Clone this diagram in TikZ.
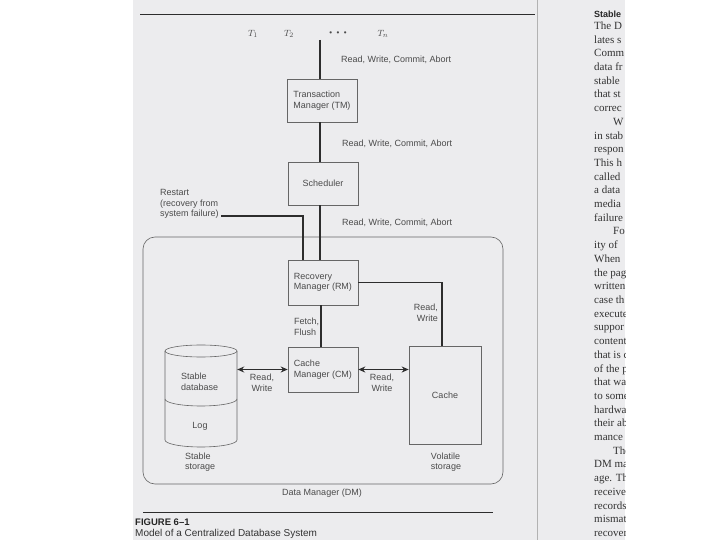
\documentclass[tikz,border=0pt]{standalone}
\usepackage{fontspec}
\setmainfont{Liberation Sans}
\newfontfamily\rpserif{Liberation Serif}
\usetikzlibrary{arrows.meta}
\definecolor{pagegray}{RGB}{236,236,238}
\definecolor{ink}{RGB}{75,75,75}
\definecolor{lineink}{RGB}{45,45,45}
\tikzset{
  box/.style={draw=black!60, line width=0.6pt, minimum width=70pt, minimum height=43pt,
              inner sep=0pt, text=ink, align=left, font=\fontsize{9}{10.5}\selectfont},
  lbl/.style={text=ink, inner sep=0pt, font=\fontsize{9}{10.5}\selectfont},
  conn/.style={draw=lineink, line width=1.4pt},
  biarrow/.style={draw=lineink, line width=1.7pt, {Stealth[length=7pt,width=6pt]}-{Stealth[length=7pt,width=6pt]}},
  rp/.style={inner sep=0pt, text=black!80, font=\rpserif\fontsize{11}{13}\selectfont},
  rule/.style={draw=lineink, line width=0.9pt}
}
\begin{document}
\begin{tikzpicture}[x=1pt,y=-1pt]
\useasboundingbox (0,0) rectangle (720,540);
% page
\fill[white] (0,0) rectangle (720,540);
\fill[pagegray] (133,0) rectangle (625,540);
\draw[black!30, line width=0.6pt] (537,0) -- (537,540);

% rules
\draw[rule] (140,14) -- (535,14);
\draw[rule] (143,512) -- (493,512);

% transactions
\node[lbl, font=\fontsize{9.5}{10}\selectfont] (t1) at (253,34) {$T_1$};
\node[lbl, font=\fontsize{9.5}{10}\selectfont] (t2) at (289,34) {$T_2$};
\node[lbl, font=\fontsize{8}{9}\selectfont] (dots) at (338,34) {\textbullet\ \ \textbullet\ \ \textbullet};
\node[lbl, font=\fontsize{9.5}{10}\selectfont] (tn) at (383,34) {$T_n$};

% data manager outline
\node[draw=black!60, line width=0.6pt, rounded corners=12pt, minimum width=360pt,
      minimum height=247pt, inner sep=0pt] (dm) at (323,360.5) {};
\node[lbl] (dmlbl) at (322,493) {Data Manager (DM)};

% boxes
\node[box] (tm) at (322,100.5) {Transaction\\Manager (TM)};
\node[box, align=center] (sch) at (323,183.5) {Scheduler};
\node[box, minimum height=45pt] (rm) at (323,282.5) {Recovery\\Manager (RM)};
\node[box, minimum height=45pt] (cm) at (323,369.5) {Cache\\Manager (CM)};
\node[box, align=center, minimum width=72pt, minimum height=98pt] (cache) at (445,395) {Cache};

% stable storage cylinder
\node[minimum width=72pt, minimum height=102pt, inner sep=0pt] (db) at (201,396) {};
\draw[black!60, line width=0.6pt] (165,351) -- (165,440)
  arc[start angle=180, end angle=360, x radius=36pt, y radius=7pt] -- (237,351);
\draw[black!60, line width=0.6pt] (201,351) ellipse [x radius=36pt, y radius=6pt];
\draw[black!60, line width=0.6pt] (165,399)
  arc[start angle=180, end angle=360, x radius=36pt, y radius=7pt];
\node[lbl, align=left, anchor=west] (sdb) at (181,382) {Stable\\database};
\node[lbl] (log) at (200,426) {Log};
\node[lbl, align=left, anchor=west] (sst) at (185,462) {Stable\\storage};
\node[lbl, align=left] (vst) at (446,462) {Volatile\\storage};

% connectors
\coordinate (tin) at (320,40);
\draw[conn] (tin) -- (tin |- tm.north);
\draw[conn] ([xshift=-2pt]tm.south) -- ([xshift=-2pt]tm.south |- sch.north);
\draw[conn] ([xshift=-3pt]sch.south) -- ([xshift=-3pt]sch.south |- rm.north);
\coordinate (rs) at (221,216);
\draw[conn] (rs) -| ([xshift=-20pt]rm.north);
\draw[conn] (rm.east) -| ([xshift=-3pt]cache.north);
\draw[conn] ([xshift=-2pt]rm.south) -- ([xshift=-2pt]rm.south |- cm.north);
\draw[biarrow] (db.east |- cm.west) -- (cm.west);
\draw[biarrow] (cm.east) -- (cm.east -| cache.west);

% connector labels
\node[lbl, anchor=west] (l1) at (341,60) {Read, Write, Commit, Abort};
\node[lbl, anchor=west] (l2) at (342,144) {Read, Write, Commit, Abort};
\node[lbl, anchor=west] (l3) at (342,223) {Read, Write, Commit, Abort};
\node[lbl, align=left, anchor=west] (restart) at (160,204) {Restart\\(recovery from\\system failure)};
\node[lbl, align=left, anchor=west] (ff) at (294,327) {Fetch,\\Flush};
\node[lbl, align=right, anchor=east] (rw1) at (438,313) {Read,\\Write};
\node[lbl, align=center] (rw2) at (262,383) {Read,\\Write};
\node[lbl, align=center] (rw3) at (382,383) {Read,\\Write};

% caption
\node[anchor=west, inner sep=0pt, text=black!85, font=\bfseries\fontsize{9.5}{11}\selectfont] (fig) at (135,522) {FIGURE 6–1};
\node[anchor=west, inner sep=0pt, text=black!80, font=\fontsize{10}{11}\selectfont] (cap) at (135,534) {Model of a Centralized Database System};

% facing page (clipped)
\begin{scope}
\clip (560,0) rectangle (625,540);
\node[anchor=west, inner sep=0pt, text=black!85, font=\bfseries\fontsize{9}{10}\selectfont] (st) at (594,14) {Stable};
\foreach \t [count=\i] in {The D, lates s, Comm, data fr, stable, that st, correc,
  \hspace*{19pt}W, in stab, respon, This h, called, a data, media, failure,
  \hspace*{19pt}Fo, ity of, When, the pag, written, case th, execute, suppor,
  content, that is c, of the p, that wa, to some, hardwa, their ab, mance,
  \hspace*{19pt}The, DM ma, age. Th, receive, records, mismatc, recovery}
  \node[rp, anchor=base west] at (594, {29.5+13.7*(\i-1)}) {\t};
\end{scope}
\end{tikzpicture}
\end{document}
